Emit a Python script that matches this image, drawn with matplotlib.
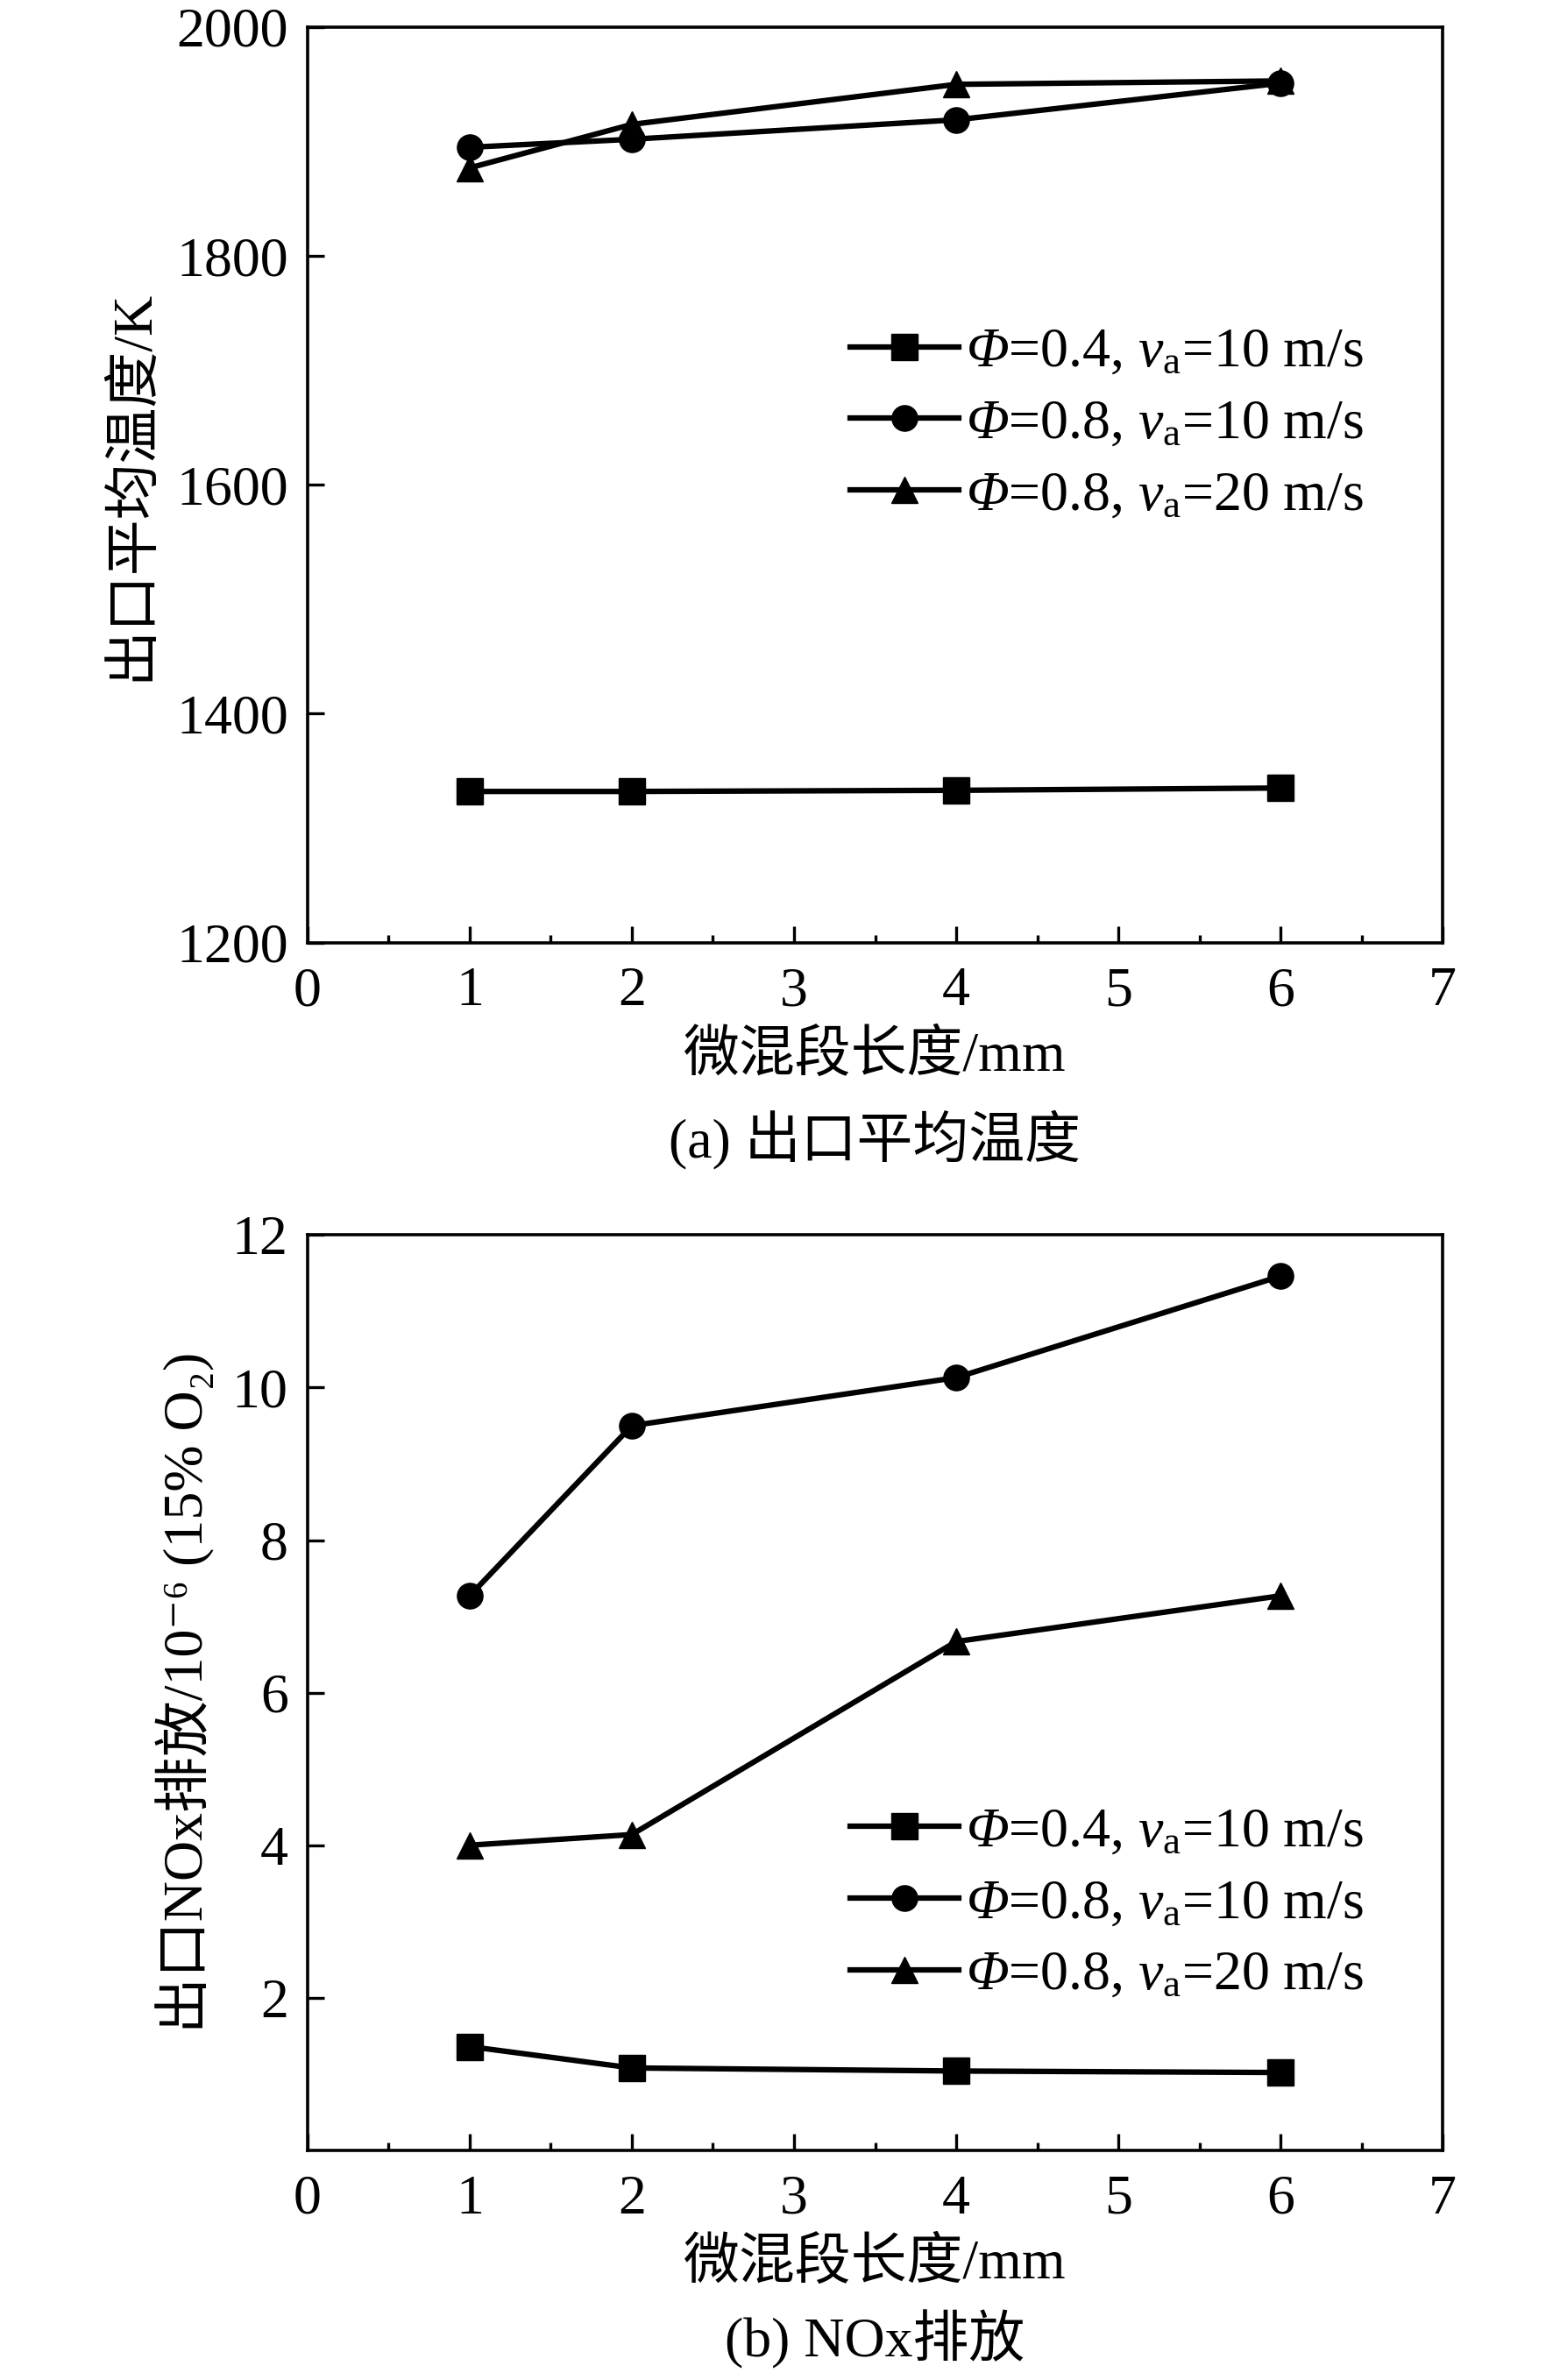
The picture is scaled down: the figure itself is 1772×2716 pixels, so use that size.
import numpy as np
import matplotlib
matplotlib.use('Agg')
import matplotlib.pyplot as plt
from matplotlib.ticker import MultipleLocator, FixedLocator

plt.rcParams['font.family'] = ['Liberation Serif', 'Noto Sans CJK SC', 'DejaVu Sans']
plt.rcParams['mathtext.fontset'] = 'custom'
plt.rcParams['mathtext.rm'] = 'Liberation Serif'
plt.rcParams['mathtext.it'] = 'Liberation Serif:italic'
plt.rcParams['mathtext.cal'] = 'Liberation Serif:italic'  # italic capital Phi
plt.rcParams['axes.unicode_minus'] = True

# data
x = [1, 2, 4, 6]
labels = [r'$\mathcal{Φ}$=0.4, $\mathit{v}_\mathrm{a}$=10 m/s',
          r'$\mathcal{Φ}$=0.8, $\mathit{v}_\mathrm{a}$=10 m/s',
          r'$\mathcal{Φ}$=0.8, $\mathit{v}_\mathrm{a}$=20 m/s']
markers = ['s', 'o', '^']

temp_04_10 = [1332, 1332, 1333, 1335]
temp_08_10 = [1895, 1902, 1919, 1951]
temp_08_20 = [1877, 1915, 1950, 1953]

nox_04_10 = [1.36, 1.08, 1.04, 1.02]
nox_08_10 = [7.27, 9.50, 10.13, 11.46]
nox_08_20 = [4.00, 4.14, 6.67, 7.27]

fig = plt.figure(figsize=(17.72, 27.16), dpi=100)
ax1 = fig.add_axes([0.198, 0.604, 0.731, 0.3846])
ax2 = fig.add_axes([0.198, 0.0965, 0.731, 0.3846])

def style(ax):
    ax.set_xlim(0, 7)
    ax.xaxis.set_major_locator(MultipleLocator(1))
    ax.xaxis.set_minor_locator(MultipleLocator(0.5))
    ax.tick_params(axis='both', which='both', direction='in', width=2.4,
                   labelsize=46, top=False, right=False)
    ax.tick_params(axis='x', which='major', length=14, pad=20)
    ax.tick_params(axis='x', which='minor', length=6.5)
    ax.tick_params(axis='y', which='major', length=14, pad=16)
    for s in ax.spines.values():
        s.set_linewidth(2.6)

leg_kw = dict(loc='upper right', frameon=False, fontsize=46, handlelength=1.95,
              handletextpad=0.12, labelspacing=0.36, borderpad=0)

for ys, m, lab in zip([temp_04_10, temp_08_10, temp_08_20], markers, labels):
    ax1.plot(x, ys, color='black', lw=4.5, marker=m, ms=21, label=lab)
ax1.set_ylim(1200, 2000)
ax1.yaxis.set_major_locator(MultipleLocator(200))
style(ax1)
ax1.set_ylabel('出口平均温度/K', fontsize=46, labelpad=14)
ax1.set_xlabel('微混段长度/mm', fontsize=46, labelpad=10)
ax1.legend(bbox_to_anchor=(0.955, 0.703), **leg_kw)
fig.text(0.5633, 1 - 1301 / 2716, '(a) 出口平均温度', fontsize=46,
         ha='center', va='center')

for ys, m, lab in zip([nox_04_10, nox_08_10, nox_08_20], markers, labels):
    ax2.plot(x, ys, color='black', lw=4.5, marker=m, ms=21, label=lab)
ax2.set_ylim(0, 12)
ax2.yaxis.set_major_locator(FixedLocator([2, 4, 6, 8, 10, 12]))
style(ax2)
ax2.set_ylabel('出口NOx排放/10⁻⁶ (15% O₂)', fontsize=46, labelpad=14)
ax2.set_xlabel('微混段长度/mm', fontsize=46, labelpad=10)
ax2.legend(bbox_to_anchor=(0.955, 0.406), **leg_kw)
fig.text(0.5633, 1 - 2670 / 2716, '(b) NOx排放', fontsize=46,
         ha='center', va='center')

fig.savefig('out.png', dpi=100)
